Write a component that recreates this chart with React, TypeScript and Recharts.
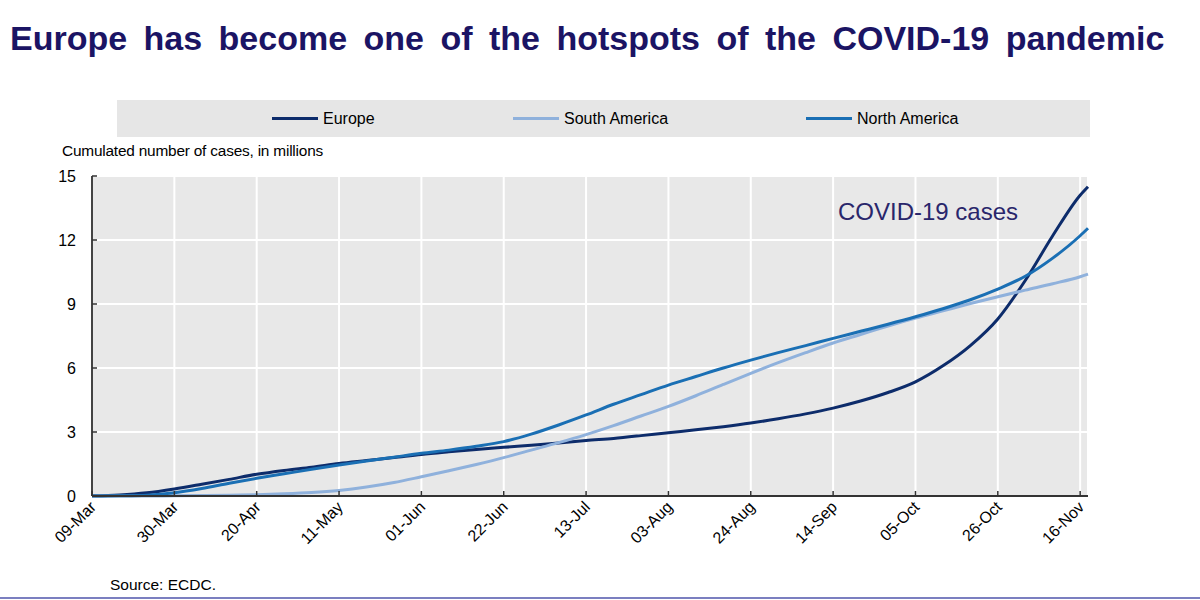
import { LineChart, Line, XAxis, YAxis, CartesianGrid, Legend } from "recharts";

// days since 09-Mar, weekly
const days = [0, 7, 14, 21, 28, 35, 42, 49, 56, 63, 70, 77, 84, 91, 98, 105, 112, 119, 126, 133, 140, 147, 154, 161, 168, 175, 182, 189, 196, 203, 210, 217, 224, 231, 238, 245, 252, 254];

const europe = [0.01, 0.05, 0.15, 0.33, 0.55, 0.78, 1.02, 1.2, 1.35, 1.52, 1.66, 1.8, 1.95, 2.07, 2.18, 2.28, 2.38, 2.48, 2.6, 2.7, 2.83, 2.97, 3.1, 3.25, 3.42, 3.62, 3.85, 4.12, 4.45, 4.85, 5.35, 6.1, 7.05, 8.3, 10.1, 12.2, 14.1, 14.5];
const southAmerica = [0, 0, 0, 0.01, 0.02, 0.04, 0.06, 0.1, 0.16, 0.26, 0.42, 0.63, 0.9, 1.18, 1.48, 1.8, 2.15, 2.5, 2.88, 3.3, 3.75, 4.2, 4.7, 5.23, 5.75, 6.25, 6.72, 7.17, 7.57, 7.97, 8.34, 8.68, 9.02, 9.34, 9.65, 9.95, 10.28, 10.4];
const northAmerica = [0, 0.01, 0.04, 0.15, 0.35, 0.6, 0.83, 1.04, 1.25, 1.45, 1.64, 1.82, 2.0, 2.15, 2.33, 2.55, 2.9, 3.33, 3.8, 4.3, 4.75, 5.2, 5.6, 6.0, 6.37, 6.72, 7.05, 7.39, 7.72, 8.05, 8.4, 8.78, 9.2, 9.7, 10.3, 11.15, 12.2, 12.55];

const seriesNames = ["Europe", "South America", "North America"];

const xTicks = [0, 21, 42, 63, 84, 105, 126, 147, 168, 189, 210, 231, 252];
const xLabels = ["09-Mar", "30-Mar", "20-Apr", "11-May", "01-Jun", "22-Jun", "13-Jul", "03-Aug", "24-Aug", "14-Sep", "05-Oct", "26-Oct", "16-Nov"];
const yTicks = [0, 3, 6, 9, 12, 15];

const data = days.map((d, i) => ({
  day: d,
  europe: europe[i],
  southAmerica: southAmerica[i],
  northAmerica: northAmerica[i],
}));

const FONT = '"Liberation Sans", Arial, sans-serif';
const legendOffsets = [155, 396, 689];

const XTick = (props: any) => {
  const { x, y, payload } = props;
  const i = xTicks.indexOf(payload.value);
  return (
    <g>
      <line x1={x} x2={x} y1={y} y2={y - 5} stroke="#333" strokeWidth={1.5} />
      <text x={x + 5} y={y + 12} textAnchor="end" fontSize={16} fontFamily={FONT} fill="#000"
        transform={`rotate(-45 ${x + 5} ${y + 12})`}>{xLabels[i]}</text>
    </g>
  );
};

const YTick = (props: any) => {
  const { x, y, payload } = props;
  return (
    <g>
      <line x1={x} x2={x + 5} y1={y} y2={y} stroke="#333" strokeWidth={1.5} />
      <text x={x - 16} y={y + 6} textAnchor="end" fontSize={16} fontFamily={FONT} fill="#000">{payload.value}</text>
    </g>
  );
};

const LegendBox = ({ payload }: any) => {
  const items = [...(payload || [])].sort((a: any, b: any) => seriesNames.indexOf(a.value) - seriesNames.indexOf(b.value));
  return (
    <div style={{ position: "relative", width: "100%", height: "100%", background: "#e6e6e6", fontFamily: FONT, fontSize: 16, color: "#000" }}>
      {items.map((p: any, i: number) => (
        <div key={p.value} style={{ position: "absolute", left: legendOffsets[i], top: 0, height: "100%", display: "flex", alignItems: "center", whiteSpace: "nowrap" }}>
          <span style={{ display: "inline-block", width: 46, height: 3, background: p.color, marginRight: 5 }} />
          <span>{p.value}</span>
        </div>
      ))}
    </div>
  );
};

export default function App() {
  return (
    <div style={{ position: "absolute", left: 0, top: 0, width: 1200, height: 600, background: "#fff", fontFamily: FONT }}>
      <div style={{ position: "absolute", left: 10, top: 19, fontSize: 34, lineHeight: "38px", fontWeight: "bold", color: "#1b1464", wordSpacing: 7, whiteSpace: "nowrap" }}>
        Europe has become one of the hotspots of the COVID-19 pandemic
      </div>
      <LineChart width={1200} height={600} data={data} margin={{ top: 176, right: 112, bottom: 44, left: 32 }}>
        <CartesianGrid fill="#e8e8e8" stroke="#ffffff" strokeWidth={2} />
        <XAxis dataKey="day" type="number" domain={[0, 254]} ticks={xTicks} interval={0}
          height={60} tickSize={0} tickMargin={0} tick={<XTick />} stroke="#333" strokeWidth={2} />
        <YAxis type="number" domain={[0, 15]} ticks={yTicks} width={60} tickSize={0} tickMargin={0}
          tick={<YTick />} stroke="#444" strokeWidth={2} />
        <Legend verticalAlign="middle" align="center" layout="horizontal"
          wrapperStyle={{ top: 100, left: 117, width: 973, height: 37 }}
          content={(props: any) => <LegendBox payload={props.payload} />} />
        <Line dataKey="europe" name={seriesNames[0]} type="monotone" stroke="#0d2c6b" strokeWidth={3} dot={false} isAnimationActive={false} />
        <Line dataKey="southAmerica" name={seriesNames[1]} type="monotone" stroke="#8fb1dc" strokeWidth={3} dot={false} isAnimationActive={false} />
        <Line dataKey="northAmerica" name={seriesNames[2]} type="monotone" stroke="#1a6fb4" strokeWidth={3} dot={false} isAnimationActive={false} />
      </LineChart>
      <div style={{ position: "absolute", left: 62, top: 142, fontSize: 15.4, color: "#000", whiteSpace: "nowrap", letterSpacing: -0.2 }}>
        Cumulated number of cases, in millions
      </div>
      <div style={{ position: "absolute", left: 838, top: 198, fontSize: 24, color: "#29266b", whiteSpace: "nowrap" }}>
        COVID-19 cases
      </div>
      <div style={{ position: "absolute", left: 110, top: 576, fontSize: 15.5, color: "#000", whiteSpace: "nowrap" }}>
        Source: ECDC.
      </div>
      <div style={{ position: "absolute", left: 0, top: 597, width: 1200, height: 2, background: "#7b7fc0" }} />
    </div>
  );
}
